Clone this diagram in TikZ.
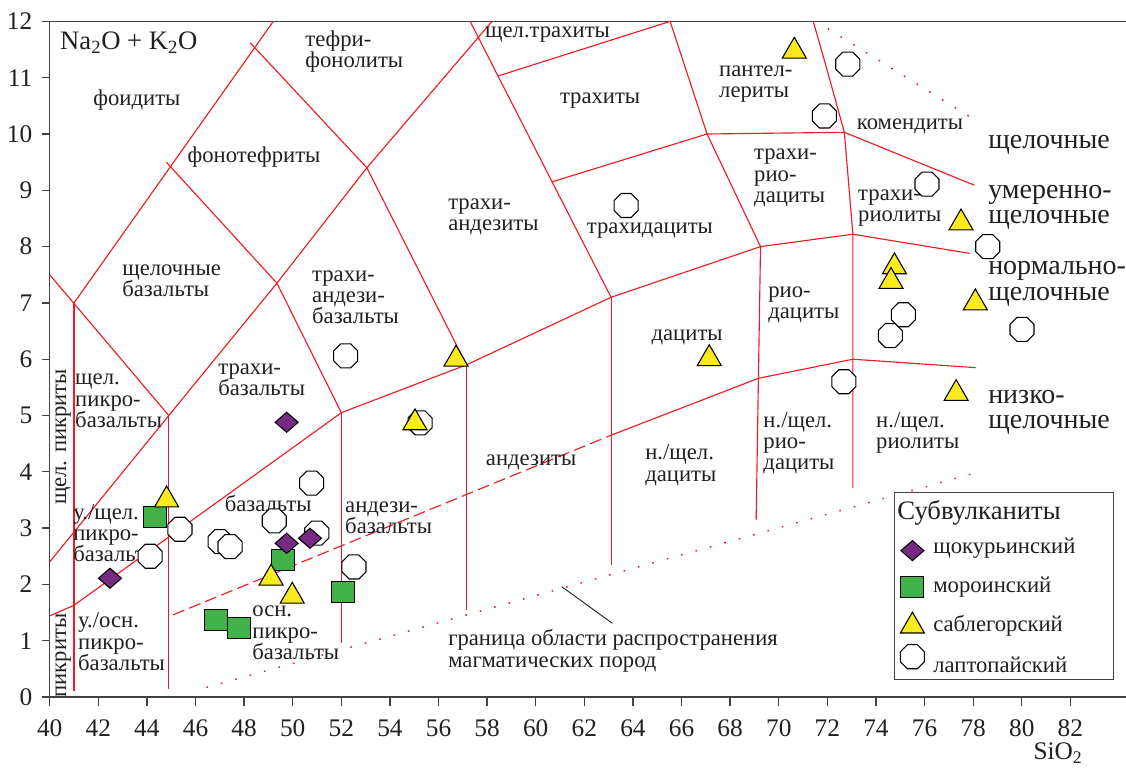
\documentclass[tikz,border=0pt]{standalone}
\usepackage{fontspec}
\setmainfont{Liberation Serif}
\usepackage{xcolor}
\usepackage{tikz}
\usetikzlibrary{shapes.geometric}
\definecolor{tas-red}{RGB}{237, 28, 36}
\definecolor{ink}{RGB}{ 35, 31, 32}
\definecolor{s-purple}{RGB}{118, 42,131}
\definecolor{s-green}{RGB}{ 64,178, 72}
\definecolor{s-yellow}{RGB}{250,234, 30}
\tikzstyle{field}=[tas-red,line width=0.85pt]
\tikzstyle{field-dash}=[field,dash pattern=on 9pt off 4pt]
\tikzstyle{field-dot}=[field,line width=1.1pt,dash pattern=on 1.2pt off 10pt]
\tikzstyle{axisline}=[ink!85,line width=1pt]
\tikzstyle{lbl}=[text=ink,inner sep=0pt,font=\fontsize{17}{16}\selectfont]
\tikzstyle{lbl-l}=[lbl,anchor=west,align=left]
\tikzstyle{big}=[lbl-l,font=\fontsize{21}{19}\selectfont]
\tikzstyle{ticklbl}=[text=ink,inner sep=0pt,font=\fontsize{19}{22}\selectfont]
\tikzstyle{smp}=[draw=black,line width=0.8pt,inner sep=0pt,outer sep=0pt]
\tikzstyle{dm}=[smp,diamond,fill=s-purple,minimum width=17.25pt,minimum height=15pt]
\tikzstyle{sq}=[smp,rectangle,fill=s-green,minimum width=17.25pt,minimum height=15.75pt]
\tikzstyle{tri}=[smp,regular polygon,regular polygon sides=3,fill=s-yellow,minimum size=20.8pt,yshift=-2.5pt]
\tikzstyle{oct}=[smp,regular polygon,regular polygon sides=8,fill=white,minimum size=19.5pt]

\begin{document}
\begin{tikzpicture}[x=18.225pt,y=42.225pt]
\useasboundingbox (37.955,-1.261) rectangle (84.29,12.38);

% Axes
\draw[axisline] (84.29,12) -- (40,12) -- (40,0) -- (84.29,0);
\foreach \s in {40,42,...,82}
  \draw[axisline] (\s,0) -- (\s,-0.16) node[ticklbl] at (\s,-0.55) {\s};
\foreach \a in {0,...,12}
  \draw[axisline] (40,\a) -- (39.67,\a) node[ticklbl,anchor=east] at (39.31,\a) {\a};

% Junctions
\coordinate (a41) at (41,7);
\coordinate (b45) at (44.9,5.0);
\coordinate (a49) at (49.35,7.35);
\coordinate (b52) at (52,5.05);
\coordinate (a53) at (53.05,9.4);
\coordinate (b57) at (57.15,5.9);
\coordinate (b63) at (63.1,7.1);
\coordinate (t58) at (58.45,11.03);
\coordinate (t60) at (60.67,9.15);
\coordinate (t65) at (65.53,12);
\coordinate (t67) at (67.05,10.0);
\coordinate (b69) at (69.25,8.0);
\coordinate (t72) at (72.7,10.03);
\coordinate (b73) at (73.05,8.22);
\coordinate (n63) at (63.1,4.65);
\coordinate (n69) at (69.16,5.66);
\coordinate (n73) at (73.05,6.0);

% Field boundaries
\draw[field] (40,7.5) -- (b45);
\draw[field] (40,2.4) -- (b45) -- (a49) -- (a53) -- (58.2,12);
\draw[field] (a41) -- (49.2,12);
\draw[field] (44.8,9.5) -- (a49) -- (b52);
\draw[field] (48.25,11.62) -- (a53) -- (b57);
\draw[field] (57.3,12) -- (b63);
\draw[field] (t58) -- (t65) -- (t67) -- (b69);
\draw[field] (t60) -- (t67) -- (t72) -- (78.05,9.09);
\draw[field] (71.42,12) .. controls (71.95,11.2) .. (t72) -- (b73) -- (73.05,3.71);
\draw[field] (b52) -- (b57) -- (b63) -- (b69) -- (b73) -- (77.85,7.88);
\draw[field] (40,1.44) -- (41,1.63) -- (b52);
\draw[field] (41,0.1) -- (a41);
\draw[field] (44.9,0.14) -- (b45);
\draw[field] (52,0.96) -- (b52);
\draw[field] (57.15,1.55) -- (b57);
\draw[field] (63.1,2.34) -- (b63);
\draw[field] (b69) -- (69.07,3.14);
\draw[field-dash] (45.08,1.46) -- (n63);
\draw[field] (n63) -- (n69) -- (n73) -- (78.1,5.85);
\draw[field-dot] (46.45,0.17) -- (78.25,4.0);
\draw[field-dot] (72.02,11.87) -- (78.26,10.2);

% Labels
\node[lbl-l] (axis y)        at (40.42,11.62) {\fontsize{20}{22}\selectfont Na\textsubscript{2}O + K\textsubscript{2}O};
\node[lbl]   (foidites)      at (43.59,10.60) {фоидиты};
\node[lbl-l] (tephriphon)    at (50.51,11.46) {тефри-\\фонолиты};
\node[lbl]   (phonotephr)    at (48.41,9.59)  {фонотефриты};
\node[lbl-l] (alk basalt)    at (42.98,7.39)  {щелочные\\базальты};
\node[lbl-l] (trachybas and) at (50.79,7.10)  {трахи-\\андези-\\базальты};
\node[lbl-l] (trachybasalt)  at (46.93,5.63)  {трахи-\\базальты};
\node[lbl-l] (alk picrobas)  at (41.04,5.26)  {щел.\\пикро-\\базальты};
\node[lbl,rotate=90] (alk picrite) at (40.55,4.62) {щел. пикриты};
\node[lbl-l] (mod picrobas)  at (40.96,2.91)  {у./щел.\\пикро-\\базальты};
\node[lbl-l] (ult picrobas)  at (41.16,0.98)  {у./осн.\\пикро-\\базальты};
\node[lbl,rotate=90] (picrite) at (40.55,0.74) {пикриты};
\node[lbl]   (basalt)        at (48.99,3.43)  {базальты};
\node[lbl-l] (bas picrobas)  at (48.33,1.14)  {осн.\\пикро-\\базальты};
\node[lbl-l] (bas andesite)  at (52.15,3.18)  {андези-\\базальты};
\node[lbl-l] (trachyandes)   at (56.39,8.53)  {трахи-\\андезиты};
\node[lbl-l] (alk trachyte)  at (57.91,11.76) {щел.трахиты};
\node[lbl]   (trachyte)      at (62.65,10.60) {трахиты};
\node[lbl]   (trachydacite)  at (64.70,8.29)  {трахидациты};
\node[lbl-l] (pantellerite)  at (67.54,10.89) {пантел-\\лериты};
\node[lbl]   (comendite)     at (75.40,10.14) {комендиты};
\node[lbl-l] (trachyrhyodac) at (68.98,9.22)  {трахи-\\рио-\\дациты};
\node[lbl-l] (trachyrhyol)   at (73.26,8.69)  {трахи-\\риолиты};
\node[lbl]   (dacite)        at (66.23,6.39)  {дациты};
\node[lbl]   (andesite)      at (59.81,4.17)  {андезиты};
\node[lbl-l] (low dacite)    at (64.50,4.12)  {н./щел.\\дациты};
\node[lbl-l] (rhyodacite)    at (69.56,6.96)  {рио-\\дациты};
\node[lbl-l] (low rhyodac)   at (69.36,4.51)  {н./щел.\\рио-\\дациты};
\node[lbl-l] (low rhyolite)  at (74.00,4.69)  {н./щел.\\риолиты};
\node[big]   (series alk)    at (78.61,9.80)  {щелочные};
\node[big]   (series mod)    at (78.61,8.70)  {умеренно-\\щелочные};
\node[big]   (series norm)   at (78.61,7.34)  {нормально-\\щелочные};
\node[big]   (series low)    at (78.61,5.06)  {низко-\\щелочные};
\node[lbl-l] (boundary)      at (56.39,0.82)  {граница области распространения\\магматических пород};
\node[ticklbl] (axis x)      at (81.49,-1.0)  {SiO\textsubscript{2}};

% Leader
\coordinate (leader a) at (61.07,1.96);
\coordinate (leader b) at (63.15,1.31);
\draw[ink,line width=0.7pt] (leader a) -- (leader b);

% Samples
\node[oct] (l1)  at (44.13,2.50) {};
\node[oct] (l2)  at (45.36,2.98) {};
\node[oct] (l3)  at (47.01,2.76) {};
\node[oct] (l4)  at (47.42,2.67) {};
\node[oct] (l5)  at (49.24,3.13) {};
\node[oct] (l6)  at (50.78,3.80) {};
\node[oct] (l7)  at (50.99,2.91) {};
\node[oct] (l8)  at (52.52,2.31) {};
\node[oct] (l9)  at (52.18,6.06) {};
\node[oct] (l10) at (55.24,4.87) {};
\node[oct] (l11) at (63.72,8.73) {};
\node[oct] (l12) at (72.84,11.24) {};
\node[oct] (l13) at (71.88,10.32) {};
\node[oct] (l14) at (76.10,9.11) {};
\node[oct] (l15) at (78.60,8.00) {};
\node[oct] (l16) at (75.13,6.79) {};
\node[oct] (l17) at (74.59,6.42) {};
\node[oct] (l18) at (80.01,6.53) {};
\node[oct] (l19) at (72.68,5.60) {};
\node[sq]  (m1)  at (44.33,3.20) {};
\node[sq]  (m2)  at (49.59,2.43) {};
\node[sq]  (m3)  at (52.08,1.86) {};
\node[sq]  (m4)  at (46.83,1.36) {};
\node[sq]  (m5)  at (47.80,1.23) {};
\node[tri] (s1)  at (44.81,3.56) {};
\node[tri] (s2)  at (49.11,2.17) {};
\node[tri] (s3)  at (49.98,1.85) {};
\node[tri] (s4)  at (55.03,4.93) {};
\node[tri] (s5)  at (56.72,6.06) {};
\node[tri] (s6)  at (67.14,6.07) {};
\node[tri] (s7)  at (70.64,11.53) {};
\node[tri] (s8)  at (77.50,8.48) {};
\node[tri] (s9)  at (74.76,7.70) {};
\node[tri] (s10) at (74.62,7.44) {};
\node[tri] (s11) at (78.09,7.06) {};
\node[tri] (s12) at (77.30,5.45) {};
\node[dm]  (d1)  at (42.48,2.11) {};
\node[dm]  (d2)  at (49.75,4.88) {};
\node[dm]  (d3)  at (49.75,2.73) {};
\node[dm]  (d4)  at (50.71,2.82) {};

% Legend
\draw[axisline,fill=white] (74.75,0.314) rectangle (83.77,3.63);
\node[lbl-l,font=\fontsize{20}{22}\selectfont] (legend title) at (74.87,3.27) {Субвулканиты};
\node[dm]    (key d) at (75.50,2.60)  {};
\node[sq]    (key m) at (75.50,1.96)  {};
\node[tri]   (key s) at (75.50,1.32)  {};
\node[oct]   (key l) at (75.50,0.716) {};
\node[lbl-l] (text d) at (76.35,2.65) {щокурьинский};
\node[lbl-l] (text m) at (76.35,1.95) {мороинский};
\node[lbl-l] (text s) at (76.35,1.27) {саблегорский};
\node[lbl-l] (text l) at (76.35,0.57) {лаптопайский};

\end{tikzpicture}
\end{document}
